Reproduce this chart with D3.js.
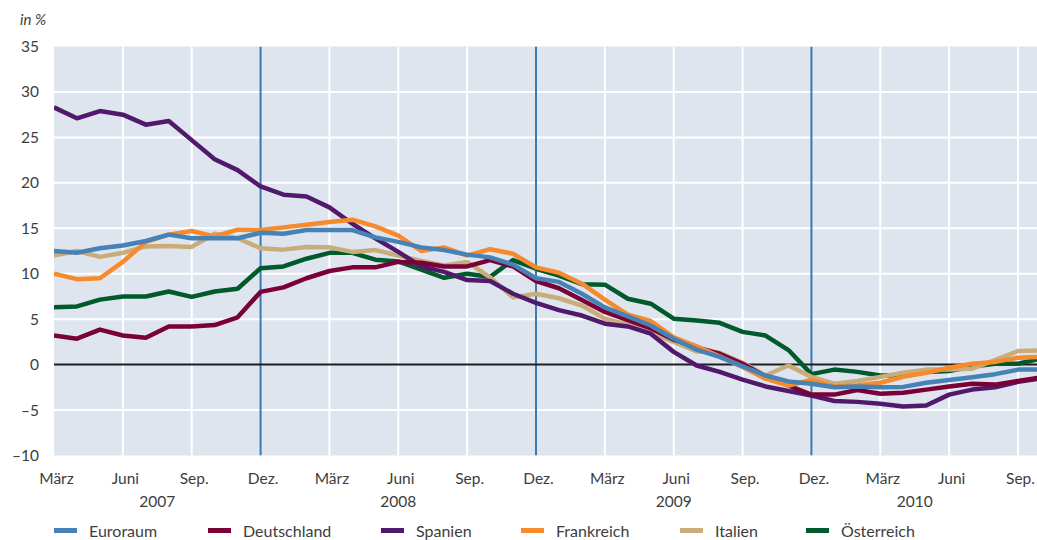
<!DOCTYPE html>
<html>
<head>
<meta charset="utf-8">
<script src="https://cdn.jsdelivr.net/npm/d3@7"></script>
<style>
  html, body { margin: 0; padding: 0; background: #fff; }
  svg { display: block; font-family: Lato, "Open Sans", sans-serif; }
</style>
</head>
<body>
<svg id="chart" width="1037" height="540"></svg>
<script>
// ---- DATA ----
const months = [
  "2007-03","2007-04","2007-05","2007-06","2007-07","2007-08","2007-09","2007-10","2007-11","2007-12",
  "2008-01","2008-02","2008-03","2008-04","2008-05","2008-06","2008-07","2008-08","2008-09","2008-10","2008-11","2008-12",
  "2009-01","2009-02","2009-03","2009-04","2009-05","2009-06","2009-07","2009-08","2009-09","2009-10","2009-11","2009-12",
  "2010-01","2010-02","2010-03","2010-04","2010-05","2010-06","2010-07","2010-08","2010-09","2010-10"
];
const seriesNames = ["Euroraum","Deutschland","Spanien","Frankreich","Italien","Österreich"];

const euroraum = [12.5,12.3,12.8,13.1,13.6,14.3,13.9,13.9,13.9,14.5,
  14.4,14.8,14.8,14.8,14.0,13.5,12.9,12.6,12.1,11.8,11.0,9.5,
  9.1,7.8,6.3,5.3,4.3,2.85,1.65,0.85,-0.2,-1.2,-1.85,-2.1,
  -2.5,-2.4,-2.5,-2.45,-2.0,-1.7,-1.4,-1.05,-0.55,-0.55];
const deutschland = [3.2,2.85,3.85,3.2,2.95,4.2,4.2,4.35,5.2,8.0,
  8.5,9.5,10.3,10.7,10.7,11.3,11.2,10.8,10.8,11.5,10.8,9.2,
  8.4,7.1,5.8,4.9,4.0,2.75,1.9,1.2,0.1,-1.3,-2.3,-3.3,
  -3.3,-2.8,-3.2,-3.1,-2.75,-2.4,-2.1,-2.2,-1.8,-1.4];
const spanien = [28.3,27.1,27.9,27.5,26.4,26.8,24.7,22.6,21.4,19.6,
  18.7,18.5,17.3,15.5,13.9,12.4,10.8,10.2,9.3,9.2,7.8,6.8,
  6.0,5.4,4.5,4.2,3.4,1.4,-0.1,-0.8,-1.65,-2.4,-2.9,-3.4,
  -4.0,-4.1,-4.3,-4.6,-4.5,-3.3,-2.75,-2.5,-1.9,-1.5];
const frankreich = [10.0,9.4,9.5,11.3,13.5,14.3,14.7,14.1,14.85,14.8,
  15.1,15.4,15.7,15.95,15.2,14.2,12.5,12.9,12.0,12.7,12.2,10.7,
  10.1,8.9,7.15,5.5,4.8,3.0,2.0,0.9,-0.25,-1.55,-2.3,-1.7,
  -2.4,-2.3,-2.0,-1.35,-0.9,-0.35,0.1,0.3,0.75,0.85];
const italien = [12.0,12.5,11.85,12.3,13.0,13.05,12.95,14.4,13.9,12.8,
  12.65,12.95,12.9,12.4,12.6,12.0,11.4,10.9,11.3,9.6,7.4,7.8,
  7.3,6.5,5.05,4.4,3.5,2.5,1.45,1.3,0.2,-1.2,-0.1,-1.35,
  -2.1,-1.8,-1.35,-0.9,-0.55,-0.55,-0.45,0.5,1.5,1.55];
const oesterreich = [6.3,6.4,7.15,7.5,7.5,8.05,7.45,8.05,8.35,10.6,
  10.8,11.65,12.3,12.3,11.55,11.35,10.45,9.55,10.0,9.65,11.5,10.55,
  9.8,8.85,8.8,7.25,6.7,5.05,4.85,4.6,3.6,3.2,1.6,-1.05,
  -0.55,-0.8,-1.2,-1.2,-0.8,-0.7,-0.2,0.1,0.1,0.65];

const quarterLabels = ["März","Juni","Sep.","Dez."];
const years = ["2007","2008","2009","2010"];
const yTicks = [-10,-5,0,5,10,15,20,25,30,35];
const unitLabel = "in %";

// ---- LAYOUT / STYLE ----
const colors = {
  "Euroraum": "#4682b6",
  "Deutschland": "#7a0038",
  "Spanien": "#51196c",
  "Frankreich": "#f68a2c",
  "Italien": "#c8ad7b",
  "Österreich": "#005a2c"
};
const seriesValues = {
  "Euroraum": euroraum, "Deutschland": deutschland, "Spanien": spanien,
  "Frankreich": frankreich, "Italien": italien, "Österreich": oesterreich
};
const drawOrder = ["Österreich","Italien","Spanien","Deutschland","Frankreich","Euroraum"];
const yearAnchor = [4.5, 15, 27, 37.5]; // month-index position of the year captions
const legendX = [54, 208, 381, 521, 680, 806]; // swatch left edges

const plot = { left: 54, right: 1037, top: 46.5, bottom: 455.5 };
const svg = d3.select("#chart");

const x = d3.scaleLinear().domain([0, 42]).range([54, 1018]);
const y = d3.scaleLinear().domain([-10, 35]).range([plot.bottom, plot.top]);

svg.append("defs").append("clipPath").attr("id", "clip")
  .append("rect").attr("x", plot.left).attr("y", plot.top)
  .attr("width", plot.right - plot.left).attr("height", plot.bottom - plot.top);

// background
svg.append("rect").attr("x", plot.left).attr("y", plot.top)
  .attr("width", plot.right - plot.left).attr("height", plot.bottom - plot.top)
  .attr("fill", "#dfe5ee");

const grid = svg.append("g").attr("clip-path", "url(#clip)");
// horizontal gridlines
grid.selectAll("line.h").data(yTicks.filter(v => v !== 0 && v !== -10 && v !== 35))
  .join("line").attr("class", "h")
  .attr("x1", plot.left).attr("x2", plot.right)
  .attr("y1", d => y(d)).attr("y2", d => y(d))
  .attr("stroke", "#ffffff").attr("stroke-width", 2);

// vertical gridlines every 3 months
const qIdx = d3.range(0, months.length).filter(i => i % 3 === 0 && i > 0);
grid.selectAll("line.v").data(qIdx)
  .join("line").attr("class", "v")
  .attr("x1", d => x(d)).attr("x2", d => x(d))
  .attr("y1", plot.top).attr("y2", plot.bottom)
  .attr("stroke", d => months[d].endsWith("-12") ? "#3b79b1" : "#ffffff")
  .attr("stroke-width", 2);

// zero line
grid.append("line")
  .attr("x1", plot.left).attr("x2", plot.right)
  .attr("y1", y(0)).attr("y2", y(0))
  .attr("stroke", "#1e1e1e").attr("stroke-width", 2);

// series lines
const line = d3.line().x((d, i) => x(i)).y(d => y(d));
const lines = svg.append("g").attr("clip-path", "url(#clip)");
drawOrder.forEach(name => {
  lines.append("path")
    .datum(seriesValues[name])
    .attr("d", line)
    .attr("fill", "none")
    .attr("stroke", colors[name])
    .attr("stroke-width", 4.5)
    .attr("stroke-linejoin", "round");
});

// y axis
const yAxis = d3.axisLeft(y).tickValues(yTicks).tickSize(0)
  .tickFormat(d => d < 0 ? "\u2013" + Math.abs(d) : String(d));
const gy = svg.append("g").attr("transform", `translate(${39},0)`).call(yAxis);
gy.select(".domain").remove();
gy.selectAll("text").attr("x", 0).attr("fill", "#3d3d3d")
  .style("font-size", "15.5px").style("font-family", "Lato, sans-serif");

// x axis
const xAxis = d3.axisBottom(x).tickValues(d3.range(0, months.length, 3).filter(i => i <= 42))
  .tickSize(0)
  .tickFormat(i => quarterLabels[(i / 3) % 4]);
const gx = svg.append("g").attr("transform", `translate(2,${plot.bottom})`).call(xAxis);
gx.select(".domain").remove();
gx.selectAll("text").attr("y", 17).attr("dy", "0.71em").attr("fill", "#3d3d3d")
  .style("font-size", "15.5px").style("font-family", "Lato, sans-serif");

// year captions
svg.selectAll("text.year").data(years).join("text")
  .attr("class", "year")
  .attr("x", (d, i) => x(yearAnchor[i]))
  .attr("y", 506.5)
  .attr("text-anchor", "middle")
  .attr("fill", "#3d3d3d")
  .style("font-size", "15.5px")
  .text(d => d);

// unit label
svg.append("text").attr("x", 20).attr("y", 25)
  .attr("fill", "#3d3d3d").style("font-size", "15px").style("font-style", "italic")
  .text(unitLabel);

// legend
const legend = svg.append("g");
seriesNames.forEach((name, i) => {
  const lx = legendX[i];
  legend.append("rect").attr("x", lx).attr("y", 528).attr("width", 23).attr("height", 5)
    .attr("fill", colors[name]);
  legend.append("text").attr("x", lx + 35).attr("y", 537)
    .attr("fill", "#3d3d3d").style("font-size", "16px").text(name);
});
</script>
</body>
</html>
